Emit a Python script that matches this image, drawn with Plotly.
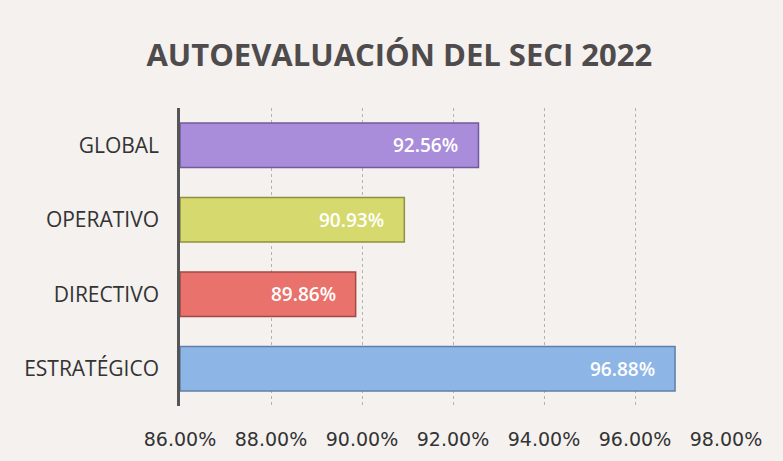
import plotly.graph_objects as go

categories = ["ESTRATÉGICO", "DIRECTIVO", "OPERATIVO", "GLOBAL"]
values = [96.88, 89.86, 90.93, 92.56]
bar_colors = ["#8db6e6", "#e9726c", "#d6da6e", "#a98ddb"]
edge_colors = ["#5f7fa8", "#a04a46", "#8f9140", "#735a9e"]
axis_start = 86
tick_vals = [86, 88, 90, 92, 94, 96, 98]
tick_text = ["86.00%", "88.00%", "90.00%", "92.00%", "94.00%", "96.00%", "98.00%"]

fig = go.Figure()
fig.add_trace(go.Bar(
    y=categories, x=[v - axis_start for v in values], orientation="h",
    base=axis_start,
    marker=dict(color=bar_colors, line=dict(color=edge_colors, width=1.5)),
    width=0.6,
    hoverinfo="skip",
))

for c, v in zip(categories, values):
    fig.add_annotation(x=v, y=c, text=f"{v:.2f}%", showarrow=False,
                       xanchor="right", xshift=-18,
                       font=dict(family="Open Sans", size=19, color="white", weight=600))

fig.update_layout(
    width=783, height=461,
    margin=dict(l=180, r=57, t=108, b=55),
    paper_bgcolor="#f4f1ef", plot_bgcolor="#f4f1ef",
    showlegend=False,
    title=dict(text="<b>AUTOEVALUACIÓN DEL SECI 2022</b>", x=0.51, xanchor="center",
               y=0.88, yanchor="middle",
               font=dict(family="Open Sans", size=31, color="#4f4b4c")),
    xaxis=dict(range=[86, 98], tickvals=tick_vals, ticktext=tick_text,
               showgrid=True, gridcolor="#b5b2b0", gridwidth=1, griddash="dot",
               zeroline=False, showline=False, ticks="",
               ticklabelstandoff=20,
               tickfont=dict(family="DejaVu Sans", size=19, color="#333333")),
    yaxis=dict(showline=True, linecolor="#555555", linewidth=2.5,
               ticks="", ticklen=0, ticklabelstandoff=14,
               tickfont=dict(family="Open Sans", size=21, color="#333333"),
               categoryorder="array", categoryarray=categories),
)
fig.write_html("out.html")
